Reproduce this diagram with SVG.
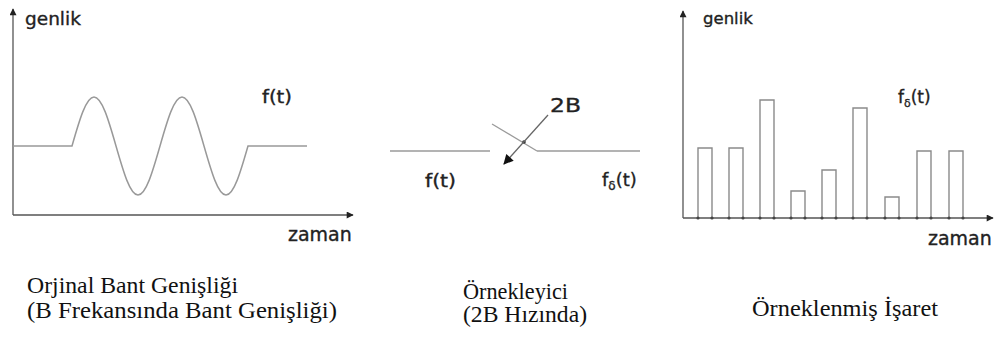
<svg xmlns="http://www.w3.org/2000/svg" width="1004" height="341" viewBox="0 0 1004 341">
  <style>
    .axis { stroke: #555; stroke-width: 1.3; fill: none; }
    .wave { stroke: #999; stroke-width: 1.5; fill: none; }
    .bar { stroke: #8a8a8a; stroke-width: 1.4; fill: none; }
    .wire { stroke: #9a9a9a; stroke-width: 1.3; fill: none; }
    .lbl { font-family: "DejaVu Sans", Verdana, sans-serif; fill: #222; stroke: #222; stroke-width: 0.35; }
    .cap { font-family: "Liberation Serif", "Times New Roman", serif; font-size: 23px; fill: #111; }
    .foot { fill: #444; }
  </style>
  <defs>
    <marker id="ah" viewBox="0 0 10 10" refX="9" refY="5" markerWidth="10" markerHeight="7" markerUnits="userSpaceOnUse" orient="auto">
      <path d="M0,0 L10,5 L0,10 Z" fill="#222"/>
    </marker>
    <marker id="ah2" viewBox="0 0 10 10" refX="9" refY="5" markerWidth="15" markerHeight="10" markerUnits="userSpaceOnUse" orient="auto">
      <path d="M0,0 L10,5 L0,10 Z" fill="#111"/>
    </marker>
  </defs>

  <g id="original-signal">
    <line class="axis" x1="13" y1="215" x2="13" y2="9" marker-end="url(#ah)"/>
    <line class="axis" x1="13" y1="215" x2="353" y2="215" marker-end="url(#ah)"/>
    <text class="lbl" x="25" y="25" font-size="18.5">genlik</text>
    <text class="lbl" x="288" y="241" font-size="19">zaman</text>
    <text class="lbl" x="262" y="103" font-size="17" textLength="30" lengthAdjust="spacingAndGlyphs">f(t)</text>
    <path class="wave" d="M13,146 L72,146 C79.2,120.9 86,97 94,97 S108.8,120.9 116,146 S130,195 138,195 S152.8,171.1 160,146 S174,97 182,97 S196.8,120.9 204,146 S218,195 226,195 S240.8,171.1 248,146 L307,146"/>
  </g>

  <g id="sampler">
    <line class="wire" x1="390" y1="151" x2="490" y2="151"/>
    <line class="wire" x1="492" y1="124" x2="537" y2="151"/>
    <line class="wire" x1="537" y1="151" x2="640" y2="151"/>
    <circle cx="524" cy="142" r="1.8" fill="#333"/>
    <text class="lbl" x="550" y="112" font-size="19.5" textLength="31" lengthAdjust="spacingAndGlyphs">2B</text>
    <text class="lbl" x="425" y="187" font-size="17" textLength="31" lengthAdjust="spacingAndGlyphs">f(t)</text>
    <text class="lbl" x="602" y="186" font-size="18">f<tspan font-size="12" dy="4">δ</tspan><tspan dy="-4">(t)</tspan></text>
  </g>

  <g id="connectors">
    <line x1="548" y1="115" x2="504" y2="164" stroke="#666" stroke-width="1.3" marker-end="url(#ah2)"/>
  </g>

  <g id="sampled-signal">
    <line class="axis" x1="683" y1="218" x2="683" y2="11" marker-end="url(#ah)"/>
    <line class="axis" x1="683" y1="218" x2="993" y2="218" marker-end="url(#ah)"/>
    <text class="lbl" x="703" y="24" font-size="16.5">genlik</text>
    <text class="lbl" x="928" y="245" font-size="19">zaman</text>
    <text class="lbl" x="898" y="103" font-size="17">f<tspan font-size="11" dy="4">δ</tspan><tspan dy="-4">(t)</tspan></text>
    <path class="bar" d="M698,218 V148 H712 V218"/>
    <path class="bar" d="M729,218 V148 H743 V218"/>
    <path class="bar" d="M760,218 V100 H774 V218"/>
    <path class="bar" d="M791,218 V191 H805 V218"/>
    <path class="bar" d="M822,218 V170 H836 V218"/>
    <path class="bar" d="M853,218 V108 H867 V218"/>
    <path class="bar" d="M885,218 V197 H899 V218"/>
    <path class="bar" d="M917,218 V151 H931 V218"/>
    <path class="bar" d="M949,218 V151 H963 V218"/>
    <g class="foot">
      <circle cx="698" cy="218" r="1.6"/><circle cx="712" cy="218" r="1.6"/>
      <circle cx="729" cy="218" r="1.6"/><circle cx="743" cy="218" r="1.6"/>
      <circle cx="760" cy="218" r="1.6"/><circle cx="774" cy="218" r="1.6"/>
      <circle cx="791" cy="218" r="1.6"/><circle cx="805" cy="218" r="1.6"/>
      <circle cx="822" cy="218" r="1.6"/><circle cx="836" cy="218" r="1.6"/>
      <circle cx="853" cy="218" r="1.6"/><circle cx="867" cy="218" r="1.6"/>
      <circle cx="885" cy="218" r="1.6"/><circle cx="899" cy="218" r="1.6"/>
      <circle cx="917" cy="218" r="1.6"/><circle cx="931" cy="218" r="1.6"/>
      <circle cx="949" cy="218" r="1.6"/><circle cx="963" cy="218" r="1.6"/>
    </g>
  </g>

  <g id="captions">
    <text class="cap" x="27" y="293" textLength="211" lengthAdjust="spacingAndGlyphs">Orjinal Bant Genişliği</text>
    <text class="cap" x="27" y="318" textLength="310" lengthAdjust="spacingAndGlyphs">(B Frekansında Bant Genişliği)</text>
    <text class="cap" x="463" y="299" textLength="105" lengthAdjust="spacingAndGlyphs">Örnekleyici</text>
    <text class="cap" x="463" y="322" textLength="124" lengthAdjust="spacingAndGlyphs">(2B Hızında)</text>
    <text class="cap" x="752" y="316" textLength="186" lengthAdjust="spacingAndGlyphs">Örneklenmiş İşaret</text>
  </g>
</svg>
